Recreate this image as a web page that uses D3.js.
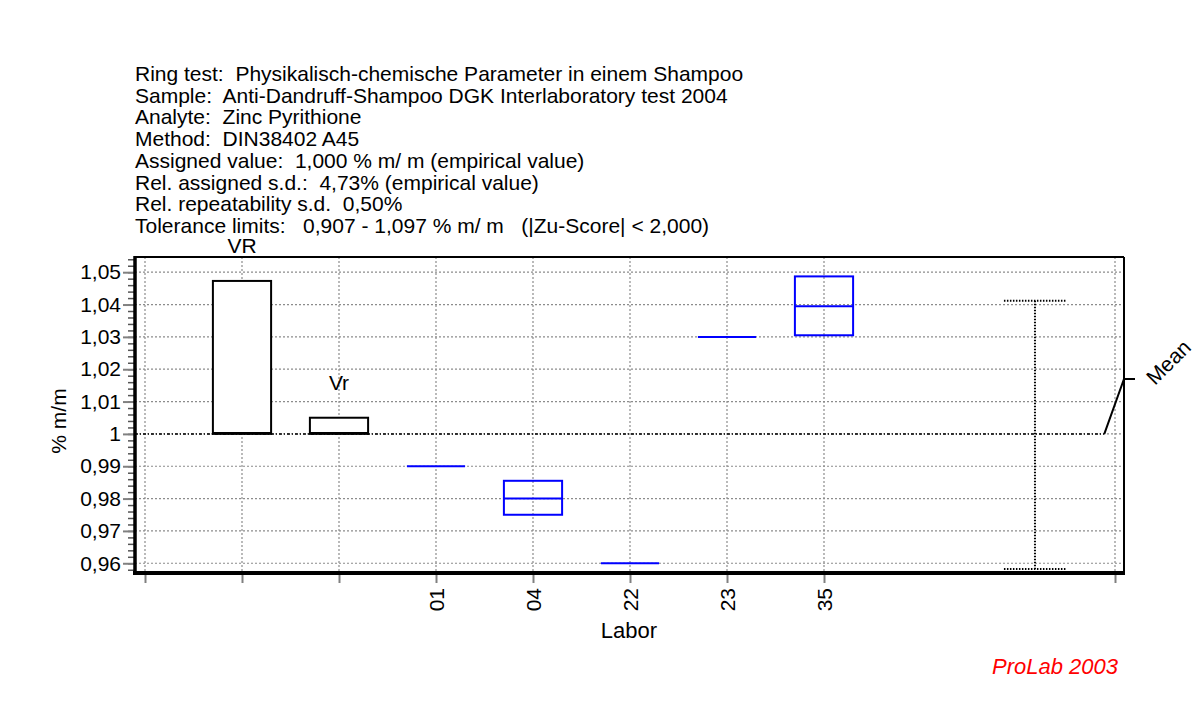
<!DOCTYPE html>
<html>
<head>
<meta charset="utf-8">
<script src="https://cdn.jsdelivr.net/npm/d3@7"></script>
<style>
  html, body { margin: 0; padding: 0; background: #fff; }
  text { font-family: "Liberation Sans", Arial, sans-serif; white-space: pre; }
</style>
</head>
<body>
<svg id="chart" width="1202" height="702"></svg>
<script>
// ---------- data ----------
const headerLines = [
  "Ring test:  Physikalisch-chemische Parameter in einem Shampoo",
  "Sample:  Anti-Dandruff-Shampoo DGK Interlaboratory test 2004",
  "Analyte:  Zinc Pyrithione",
  "Method:  DIN38402 A45",
  "Assigned value:  1,000 % m/ m (empirical value)",
  "Rel. assigned s.d.:  4,73% (empirical value)",
  "Rel. repeatability s.d.  0,50%",
  "Tolerance limits:   0,907 - 1,097 % m/ m   (|Zu-Score| < 2,000)"
];
// precision boxes (reproducibility VR, repeatability Vr)
const precNames = ["VR", "Vr"];
const precPos = [1, 2];
const precLow = [1.000, 1.000];
const precHigh = [1.0473, 1.0050];
// labs
const labs = ["01", "04", "22", "23", "35"];
const labPos = [3, 4, 5, 6, 7];
const labLow = [0.990, 0.9750, 0.960, 1.030, 1.0305];
const labMedian = [0.990, 0.9800, 0.960, 1.030, 1.0395];
const labHigh = [0.990, 0.9855, 0.960, 1.030, 1.0487];
// mean / tolerance whisker
const meanValue = 1.000;
const meanPos = 9.175;
const meanLow = 0.9582;
const meanHigh = 1.0412;
// axes
const yMajorTicks = [0.96, 0.97, 0.98, 0.99, 1.00, 1.01, 1.02, 1.03, 1.04, 1.05];
const yTickLabels = ["0,96", "0,97", "0,98", "0,99", "1", "1,01", "1,02", "1,03", "1,04", "1,05"];
const yMinorTicks = d3.range(0, 49).map(i => +(0.958 + i * 0.002).toFixed(3));
const xTickPos = [0, 1, 2, 3, 4, 5, 6, 7, 10];

// ---------- layout ----------
const svg = d3.select("#chart");
const L = 135, R = 1124, T = 257, B = 572;
const x = d3.scaleLinear().domain([0, 10]).range([145, 1115]);
const y = d3.scaleLinear().domain([0.9573, 1.0547]).range([B, T]);
const boxW = x(0.6) - x(0);
const capW = x(0.64) - x(0);
const FS = 21;

svg.append("rect").attr("width", 1202).attr("height", 702).attr("fill", "#fff");

// header
svg.append("g").selectAll("text").data(headerLines).join("text")
  .attr("x", 135).attr("y", (d, i) => 81 + i * 21.7)
  .attr("font-size", FS).attr("fill", "#000").text(d => d);

// grid
const grid = svg.append("g");
grid.selectAll("line.h").data(yMajorTicks).join("line")
  .attr("x1", L).attr("x2", R).attr("y1", d => y(d)).attr("y2", d => y(d))
  .attr("stroke", "#8c8c8c").attr("stroke-width", 1.2).attr("stroke-dasharray", "2,2");
grid.selectAll("line.v").data(xTickPos).join("line")
  .attr("x1", d => x(d)).attr("x2", d => x(d)).attr("y1", T).attr("y2", B)
  .attr("stroke", "#8c8c8c").attr("stroke-width", 1.2).attr("stroke-dasharray", "2,2");

// mean leader start
const leadX = x(9.89);

// mean line
svg.append("line")
  .attr("x1", L).attr("x2", leadX).attr("y1", y(meanValue)).attr("y2", y(meanValue))
  .attr("stroke", "#000").attr("stroke-width", 1.5).attr("stroke-dasharray", "3,2,1,2");

// y axis ticks (minor + major) via d3 axes
const yMinorAxis = d3.axisLeft(y).tickValues(yMinorTicks).tickSize(7).tickFormat("");
const gMinor = svg.append("g").attr("transform", `translate(${L},0)`).call(yMinorAxis);
gMinor.select(".domain").remove();
gMinor.selectAll("line").attr("stroke", "#555").attr("stroke-width", 1.5);

const yAxis = d3.axisLeft(y).tickValues(yMajorTicks).tickSize(12).tickPadding(2)
  .tickFormat((d, i) => yTickLabels[i]);
const gY = svg.append("g").attr("transform", `translate(${L},0)`).call(yAxis);
gY.select(".domain").remove();
gY.selectAll("line").attr("stroke", "#808080").attr("stroke-width", 2);
gY.selectAll("text").attr("font-size", FS).attr("fill", "#000")
  .attr("font-family", '"Liberation Sans", Arial, sans-serif');

// x axis ticks
const xAxis = d3.axisBottom(x).tickValues(xTickPos).tickSize(9).tickFormat("");
const gX = svg.append("g").attr("transform", `translate(0,${B + 2})`).call(xAxis);
gX.select(".domain").remove();
gX.selectAll("line").attr("stroke", "#808080").attr("stroke-width", 2);

// x labels (rotated)
svg.append("g").selectAll("text").data(labs).join("text")
  .attr("transform", (d, i) => `translate(${x(labPos[i])},588) rotate(-90)`)
  .attr("text-anchor", "end").attr("dy", "0.36em")
  .attr("font-size", FS).attr("fill", "#000").text(d => d);

// frame
svg.append("line").attr("x1", L).attr("x2", R).attr("y1", T).attr("y2", T)
  .attr("stroke", "#000").attr("stroke-width", 2);
svg.append("line").attr("x1", R).attr("x2", R).attr("y1", T).attr("y2", B)
  .attr("stroke", "#000").attr("stroke-width", 2);
svg.append("line").attr("x1", L).attr("x2", L).attr("y1", T - 1).attr("y2", B + 2)
  .attr("stroke", "#000").attr("stroke-width", 3.5);
svg.append("line").attr("x1", L - 2).attr("x2", R + 1).attr("y1", B + 1).attr("y2", B + 1)
  .attr("stroke", "#000").attr("stroke-width", 4);

// precision boxes
const gp = svg.append("g");
precNames.forEach((n, i) => {
  const cx = x(precPos[i]);
  gp.append("rect")
    .attr("x", cx - boxW / 2).attr("width", boxW)
    .attr("y", y(precHigh[i])).attr("height", y(precLow[i]) - y(precHigh[i]))
    .attr("fill", "#fff").attr("stroke", "#000").attr("stroke-width", 2);
  gp.append("line")
    .attr("x1", cx - boxW / 2).attr("x2", cx + boxW / 2)
    .attr("y1", y(precLow[i]) - 1).attr("y2", y(precLow[i]) - 1)
    .attr("stroke", "#000").attr("stroke-width", 2);
  gp.append("text").attr("x", cx).attr("y", y(precHigh[i]) - 28)
    .attr("text-anchor", "middle").attr("font-size", FS).attr("fill", "#000").text(n);
});

// lab boxes
const gl = svg.append("g");
labs.forEach((n, i) => {
  const cx = x(labPos[i]);
  if (labHigh[i] > labLow[i]) {
    gl.append("rect")
      .attr("x", cx - boxW / 2).attr("width", boxW)
      .attr("y", y(labHigh[i])).attr("height", y(labLow[i]) - y(labHigh[i]))
      .attr("fill", "none").attr("stroke", "#0000ff").attr("stroke-width", 2);
  }
  gl.append("line")
    .attr("x1", cx - boxW / 2).attr("x2", cx + boxW / 2)
    .attr("y1", y(labMedian[i])).attr("y2", y(labMedian[i]))
    .attr("stroke", "#0000ff").attr("stroke-width", 2);
});

// mean whisker
const mx = x(meanPos);
const gm = svg.append("g").attr("stroke", "#000").attr("stroke-width", 2).attr("stroke-dasharray", "1.5,1.5");
gm.append("line").attr("x1", mx).attr("x2", mx).attr("y1", y(meanHigh)).attr("y2", y(meanLow));
gm.append("line").attr("x1", mx - capW / 2).attr("x2", mx + capW / 2).attr("y1", y(meanHigh)).attr("y2", y(meanHigh));
gm.append("line").attr("x1", mx - capW / 2).attr("x2", mx + capW / 2).attr("y1", y(meanLow)).attr("y2", y(meanLow));

// mean leader + label
const ly = 379;
svg.append("polyline")
  .attr("points", `${leadX},${y(meanValue)} ${R},${ly} ${R + 11},${ly}`)
  .attr("fill", "none").attr("stroke", "#000").attr("stroke-width", 2);
svg.append("text").attr("transform", `translate(1155,386) rotate(-45)`)
  .attr("font-size", FS).attr("fill", "#000").text("Mean");

// axis titles
svg.append("text").attr("transform", "translate(66,421) rotate(-90)")
  .attr("text-anchor", "middle").attr("font-size", FS).attr("fill", "#000").text("% m/m");
svg.append("text").attr("x", 629).attr("y", 638).attr("text-anchor", "middle")
  .attr("font-size", 22).attr("fill", "#000").text("Labor");
svg.append("text").attr("x", 1118).attr("y", 674).attr("text-anchor", "end")
  .attr("font-size", 22).attr("font-style", "italic").attr("fill", "#ff0000").text("ProLab 2003");
</script>
</body>
</html>
